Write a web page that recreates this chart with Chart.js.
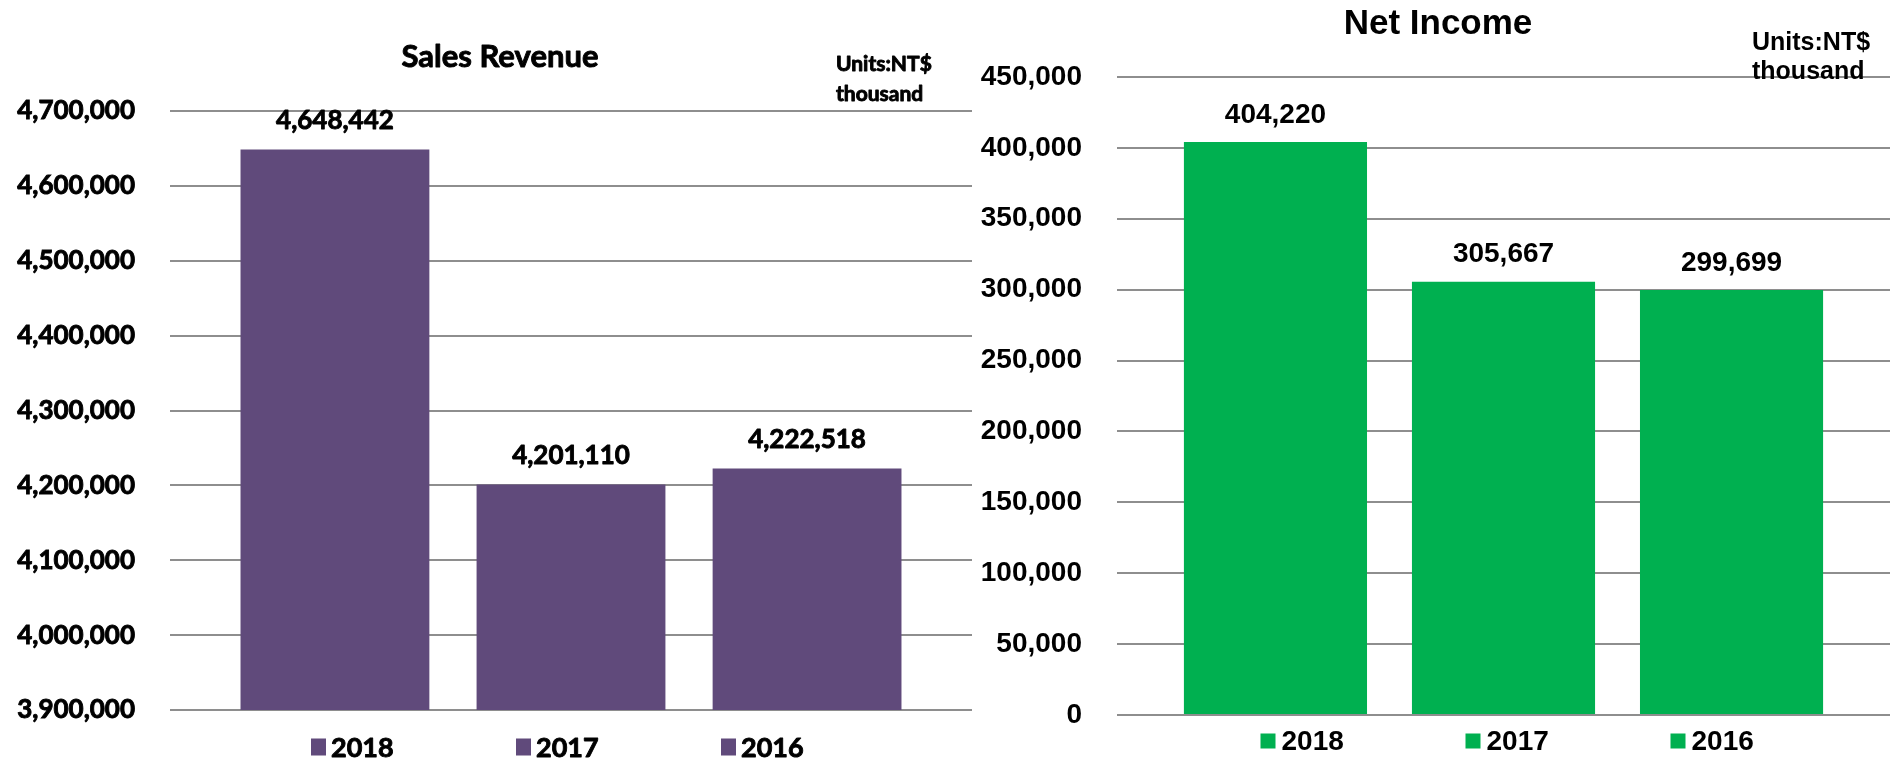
<!DOCTYPE html>
<html>
<head>
<meta charset="utf-8">
<title>Sales Revenue and Net Income</title>
<script src="https://cdn.jsdelivr.net/npm/chart.js@4"></script>
<style>
  html, body { margin: 0; padding: 0; background: #fff; }
  #wrap { position: relative; width: 1890px; height: 761px; }
  .box { position: absolute; top: 0; height: 761px; }
  #leftBox { left: 0; width: 975px; }
  #rightBox { left: 975px; width: 915px; }
</style>
</head>
<body>
<div id="wrap">
  <div class="box" id="leftBox"><canvas id="salesChart" width="975" height="761"></canvas></div>
  <div class="box" id="rightBox"><canvas id="incomeChart" width="915" height="761"></canvas></div>
</div>
<script>
// years are the series (one bar each), like the original spreadsheet chart
const years = ['2018', '2017', '2016'];
const salesRevenue = [4648442, 4201110, 4222518];
const netIncome = [404220, 305667, 299699];
// axis ranges: [min, max, step]
const salesAxis = [3900000, 4700000, 100000];
const incomeAxis = [0, 450000, 50000];

const purple = '#604A7B';
const green = '#00B050';
const gridColor = '#8e8e8e';
const fmt = v => Number(v).toLocaleString('en-US');

// draws text, optionally thickened with a thin outline
function putText(ctx, text, x, y, stroke) {
  if (stroke) {
    ctx.strokeStyle = ctx.fillStyle;
    ctx.lineWidth = stroke;
    ctx.lineJoin = 'round';
    ctx.strokeText(text, x, y);
  }
  ctx.fillText(text, x, y);
}

// title + units note
const noteText = {
  id: 'noteText',
  afterDraw(chart, args, opts) {
    const ctx = chart.ctx;
    ctx.save();
    ctx.fillStyle = '#000';
    ctx.textBaseline = 'middle';
    (opts.items || []).forEach(t => {
      ctx.font = t.font;
      ctx.textAlign = t.align || 'left';
      putText(ctx, t.text, t.x, t.y, opts.stroke);
    });
    ctx.restore();
  }
};

// numbers above the bars
const valueLabels = {
  id: 'valueLabels',
  afterDatasetsDraw(chart, args, opts) {
    const ctx = chart.ctx;
    ctx.save();
    ctx.fillStyle = '#000';
    ctx.font = opts.font;
    ctx.textAlign = 'center';
    ctx.textBaseline = 'middle';
    chart.data.datasets.forEach((ds, i) => {
      const bar = chart.getDatasetMeta(i).data[0];
      putText(ctx, fmt(ds.data[0]), bar.x, bar.y - opts.offset, opts.stroke);
    });
    ctx.restore();
  }
};

// spread-out legend under the plot
const wideLegend = {
  id: 'wideLegend',
  afterDraw(chart, args, opts) {
    const ctx = chart.ctx;
    const area = chart.chartArea;
    let x = (area.left + area.right) / 2 + opts.offsetX;
    ctx.save();
    ctx.textAlign = 'left';
    ctx.textBaseline = 'middle';
    ctx.font = opts.font;
    chart.data.datasets.forEach(ds => {
      ctx.fillStyle = ds.backgroundColor;
      ctx.fillRect(x, opts.y - opts.boxH / 2, opts.boxW, opts.boxH);
      ctx.fillStyle = '#000';
      putText(ctx, ds.label, x + opts.boxW + opts.gap, opts.y + 1, opts.stroke);
      x += opts.spacing;
    });
    ctx.restore();
  }
};

function makeChart(canvasId, values, color, axis, cfg) {
  const datasets = years.map((y, i) => ({
    label: y,
    data: [values[i]],
    backgroundColor: color,
    barPercentage: cfg.barPct,
    categoryPercentage: cfg.catPct
  }));
  return new Chart(document.getElementById(canvasId), {
    type: 'bar',
    data: { labels: [''], datasets },
    plugins: [noteText, valueLabels, wideLegend],
    options: {
      responsive: false,
      animation: false,
      events: [],
      layout: { padding: cfg.padding },
      scales: {
        x: { display: false },
        y: {
          min: axis[0],
          max: axis[1],
          ticks: {
            stepSize: axis[2],
            color: '#000',
            padding: 35,
            font: cfg.tickFont,
            textStrokeColor: '#000',
            textStrokeWidth: cfg.stroke,
            callback: v => fmt(v)
          },
          grid: { color: gridColor, lineWidth: 2, drawTicks: false },
          border: { display: false },
          afterFit: s => {
            s.width = cfg.axisWidth;
            // layout padding already leaves room for the end labels
            s.paddingTop = 0;
            s.paddingBottom = 0;
          }
        }
      },
      plugins: {
        legend: { display: false },
        tooltip: { enabled: false },
        noteText: { items: cfg.notes, stroke: cfg.stroke },
        valueLabels: { font: cfg.valueFont, offset: cfg.valueOffset, stroke: cfg.stroke },
        wideLegend: Object.assign({ stroke: cfg.stroke }, cfg.legend)
      }
    }
  });
}

const calibriLike = 'Lato, "Open Sans", sans-serif';
const arialLike = '"Liberation Sans", Arial, sans-serif';

makeChart('salesChart', salesRevenue, purple, salesAxis, {
  barPct: 0.80,
  catPct: 0.883,
  axisWidth: 170,
  stroke: 0.9,
  padding: { left: 0, right: 3, top: 111, bottom: 51 },
  tickFont: { family: calibriLike, size: 26, weight: 'bold' },
  valueFont: 'bold 26px ' + calibriLike,
  valueOffset: 29,
  notes: [
    { text: 'Sales Revenue', x: 500, y: 57, font: 'bold 31px ' + calibriLike, align: 'center' },
    { text: 'Units:NT$', x: 836, y: 64, font: 'bold 21px ' + calibriLike },
    { text: 'thousand', x: 836, y: 94, font: 'bold 21px ' + calibriLike }
  ],
  legend: { font: 'bold 27px ' + calibriLike, boxW: 15, boxH: 17, gap: 5, spacing: 205, offsetX: -260, y: 747 }
});

makeChart('incomeChart', netIncome, green, incomeAxis, {
  barPct: 0.803,
  catPct: 0.885,
  axisWidth: 142,
  stroke: 0,
  padding: { left: 0, right: 0, top: 77, bottom: 46 },
  tickFont: { family: arialLike, size: 28, weight: 'bold' },
  valueFont: 'bold 28px ' + arialLike,
  valueOffset: 27,
  notes: [
    { text: 'Net Income', x: 463, y: 24, font: 'bold 35px ' + arialLike, align: 'center' },
    { text: 'Units:NT$', x: 777, y: 43, font: 'bold 25px ' + arialLike },
    { text: 'thousand', x: 777, y: 72, font: 'bold 25px ' + arialLike }
  ],
  legend: { font: 'bold 28px ' + arialLike, boxW: 15, boxH: 15, gap: 6, spacing: 205, offsetX: -243, y: 741 }
});
</script>
</body>
</html>
